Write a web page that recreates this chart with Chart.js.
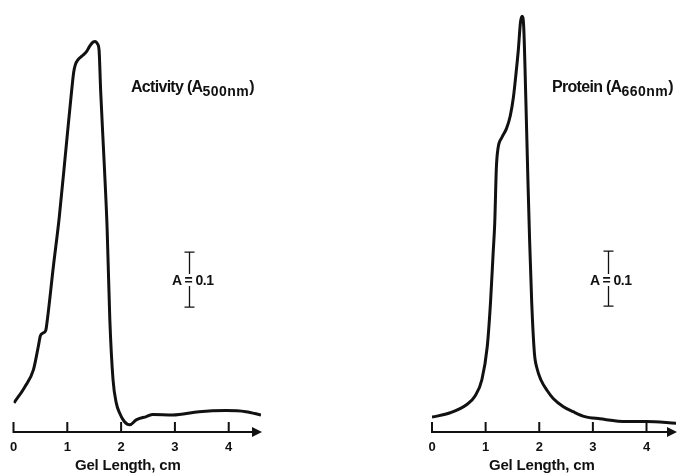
<!DOCTYPE html>
<html lang="en">

<head>
  <meta charset="UTF-8">
  <title>Gel scan - activity and protein</title>
  <style>
    body {
      margin: 0;
      background: #fff;
      font-family: 'Liberation Sans', Arial, sans-serif;
      color: #111;
    }

    #page {
      position: relative;
      width: 678px;
      height: 474px;
      overflow: hidden;
    }

    .panel {
      position: absolute;
      top: 0;
    }

    /* curve names, e.g. Activity (A500nm) */
    .label {
      position: absolute;
      font-weight: bold;
      font-size: 16px;
      letter-spacing: -0.7px;
      white-space: nowrap;
    }

    .label sub {
      font-size: 14px;
      vertical-align: -4px;
      letter-spacing: 0.5px;
    }

    /* text on the A = 0.1 scale bar */
    .scale {
      position: absolute;
      font-weight: bold;
      font-size: 14px;
      letter-spacing: -0.5px;
      white-space: nowrap;
      background: #fff;
      line-height: 12px;
    }

    /* x axis name under each panel */
    .axis-title {
      position: absolute;
      top: 456px;
      font-size: 15px;
      font-weight: bold;
      letter-spacing: -0.2px;
      white-space: nowrap;
    }
  </style>
  <script src="https://cdn.jsdelivr.net/npm/chart.js"></script>
</head>

<body>
  <div id="page">
    <canvas id="activityChart" class="panel" width="270" height="474" style="left:0"></canvas>
    <canvas id="proteinChart" class="panel" width="258" height="474" style="left:420px"></canvas>

    <div class="label" style="left:131px; top:78px">Activity (A<sub>500nm</sub>)</div>
    <div class="label" style="left:552px; top:78px">Protein (A<sub>660nm</sub>)</div>

    <div class="scale" style="left:172px; top:274px">A = 0.1</div>
    <div class="scale" style="left:590px; top:274px">A = 0.1</div>

    <div class="axis-title" style="left:75px">Gel Length, cm</div>
    <div class="axis-title" style="left:489px">Gel Length, cm</div>
  </div>

  <script>
    // gel length (cm) and absorbance
    const activityLength = [0.01, 0.21, 0.37, 0.46, 0.50, 0.55, 0.60, 0.63, 0.74, 0.85, 0.98, 1.08, 1.12, 1.15, 1.20, 1.29, 1.36, 1.42, 1.48, 1.52, 1.56, 1.59, 1.62, 1.69, 1.74, 1.79, 1.85, 1.91, 1.97, 2.06, 2.16, 2.28, 2.47, 2.59, 2.96, 3.45, 3.95, 4.32, 4.60];
    const activityA = [0.053, 0.082, 0.113, 0.155, 0.175, 0.180, 0.185, 0.205, 0.300, 0.390, 0.520, 0.620, 0.655, 0.668, 0.677, 0.685, 0.692, 0.702, 0.709, 0.710, 0.706, 0.695, 0.620, 0.480, 0.370, 0.205, 0.095, 0.053, 0.035, 0.019, 0.013, 0.022, 0.028, 0.032, 0.031, 0.037, 0.039, 0.037, 0.031];

    const proteinLength = [0.00, 0.34, 0.65, 0.80, 0.93, 1.03, 1.09, 1.14, 1.17, 1.20, 1.23, 1.30, 1.39, 1.46, 1.52, 1.57, 1.61, 1.65, 1.68, 1.71, 1.75, 1.79, 1.82, 1.86, 1.91, 1.96, 2.03, 2.15, 2.26, 2.45, 2.63, 2.85, 3.13, 3.63, 4.00, 4.55];
    const proteinA = [0.027, 0.035, 0.050, 0.065, 0.095, 0.155, 0.234, 0.325, 0.380, 0.480, 0.515, 0.535, 0.552, 0.575, 0.610, 0.655, 0.695, 0.745, 0.756, 0.737, 0.604, 0.453, 0.349, 0.234, 0.143, 0.115, 0.095, 0.075, 0.061, 0.046, 0.037, 0.028, 0.024, 0.019, 0.019, 0.016];

    const xTicks = [0, 1, 2, 3, 4];

    // A = 0.1 bar: x position (cm), top (A) and length (A)
    const activityBar = [3.27, 0.327, 0.1];
    const proteinBar = [3.28, 0.329, 0.1];

    const ink = '#111';

    // axis line with upward ticks, arrow head, and the scale bar
    const gelAxis = {
      id: 'gelAxis',
      afterDatasetsDraw(chart, args, opts) {
        const { ctx } = chart;
        const x = chart.scales.x, y = chart.scales.y;
        const y0 = y.getPixelForValue(0);
        ctx.save();
        ctx.strokeStyle = ink;
        ctx.fillStyle = ink;
        ctx.lineWidth = 2;
        ctx.beginPath();
        ctx.moveTo(x.left, y0);
        ctx.lineTo(x.right - 4, y0);
        xTicks.forEach(v => {
          const px = x.getPixelForValue(v);
          ctx.moveTo(px, y0 + 1);
          ctx.lineTo(px, y0 - 10);
        });
        ctx.stroke();

        ctx.beginPath();
        ctx.moveTo(x.right + 1, y0);
        ctx.lineTo(x.right - 9, y0 - 5);
        ctx.lineTo(x.right - 9, y0 + 5);
        ctx.closePath();
        ctx.fill();

        const bar = opts.bar;
        const bx = Math.round(x.getPixelForValue(bar[0])) + 0.5;
        const bt = y.getPixelForValue(bar[1]);
        const bb = y.getPixelForValue(bar[1] - bar[2]);
        ctx.lineWidth = 1.3;
        ctx.beginPath();
        ctx.moveTo(bx, bt);
        ctx.lineTo(bx, bb);
        ctx.moveTo(bx - 5, bt);
        ctx.lineTo(bx + 5, bt);
        ctx.moveTo(bx - 5, bb);
        ctx.lineTo(bx + 5, bb);
        ctx.stroke();
        ctx.restore();
      }
    };

    function plotTrace(canvasId, lengths, values, xMax, bar, padLeft, padRight) {
      new Chart(document.getElementById(canvasId), {
        type: 'line',
        data: {
          datasets: [{
            data: lengths.map((v, i) => ({ x: v, y: values[i] })),
            borderColor: ink,
            borderWidth: 3,
            pointRadius: 0,
            fill: false,
            cubicInterpolationMode: 'monotone'
          }]
        },
        options: {
          responsive: false,
          animation: false,
          layout: { padding: { left: padLeft, right: padRight, top: 3, bottom: 0 } },
          plugins: {
            legend: { display: false },
            tooltip: { enabled: false },
            gelAxis: { bar: bar }
          },
          scales: {
            x: {
              type: 'linear',
              min: 0,
              max: xMax,
              grid: { display: false, drawTicks: false },
              border: { display: false },
              afterBuildTicks: s => { s.ticks = xTicks.map(v => ({ value: v })); },
              afterFit: s => { s.height = 42; },
              ticks: {
                color: ink,
                padding: 8,
                maxRotation: 0,
                font: { family: "'Liberation Sans', Arial, sans-serif", size: 13, weight: 'bold' }
              }
            },
            y: {
              display: false,
              min: 0,
              max: 0.78
            }
          }
        },
        plugins: [gelAxis]
      });
    }

    plotTrace('activityChart', activityLength, activityA, 4.6, activityBar, 13.5, 9);
    plotTrace('proteinChart', proteinLength, proteinA, 4.55, proteinBar, 12, 2);
  </script>
</body>

</html>
